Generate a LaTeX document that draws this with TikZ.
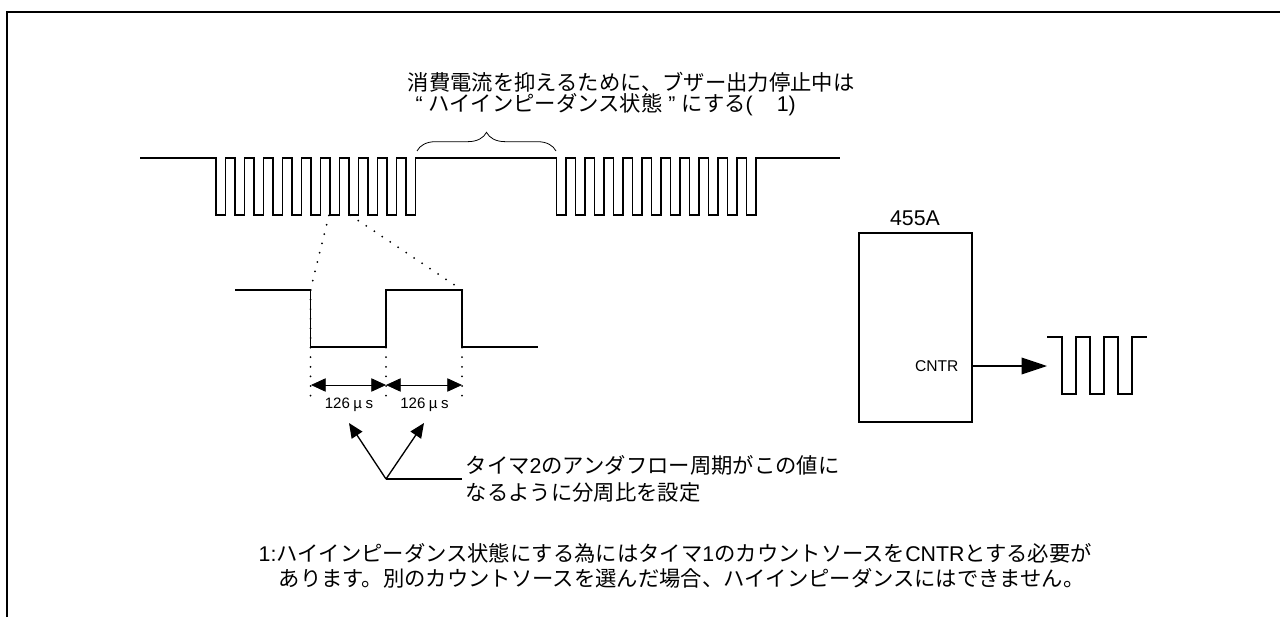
\documentclass[tikz,border=0pt]{standalone}
\usepackage{fontspec}
\usetikzlibrary{arrows.meta,decorations.pathreplacing}
\setmainfont{Liberation Sans}
\newfontfamily\jp{Noto Sans CJK JP}

\begin{document}
\begin{tikzpicture}
  [x=.75pt,y=-.75pt,line width=1pt,
   every node/.style={inner sep=0pt},
   jptext/.style={anchor=west,font=\fontsize{16}{18}\selectfont},
   smalltext/.style={font=\fontsize{11.3}{13}\selectfont},
   dots/.style={line width=1.5pt,line cap=round,dash pattern=on 0pt off 7.2pt},
   bigtip/.style={-{Triangle[length=11pt,width=9.5pt]}},
   dimtip/.style={{Triangle[length=11pt,width=10pt]}-{Triangle[length=11pt,width=10pt]}}]
  \useasboundingbox (0,0) rectangle (1280,617);
  % frame
  \draw[line width=1.5pt] (7,617) -- (7,12) -- (1280,12);
  % upper waveform
  \draw (140,158) foreach \k in {0,...,10} {-- (216+19*\k,158) -- ++(0,57) -- ++(9.5,0) -- ++(0,-57)}
    -- (415,158) foreach \k in {0,...,10} {-- (556.5+19*\k,158) -- ++(0,57) -- ++(9.5,0) -- ++(0,-57)}
    -- (840,158);
  \draw[line width=.6pt,decorate,decoration={brace,amplitude=14pt}] (417,151) -- (556,151);
  % lower waveform
  \coordinate (f1) at (310.5,290);
  \coordinate (r1) at (386,290);
  \coordinate (f2) at (462,290);
  \draw (235,290) -- (f1) -- (310.5,347) -- (386,347) -- (r1) -- (f2) -- (462,347) -- (538,347);
  \draw[dots] (f1) -- (329,215);
  \draw[dots] (f2) -- (350,215);
  \foreach \a in {f1,r1,f2}
    \draw[dots] (\a) -- ++(0,106);
  % interval arrows
  \node[smalltext] (t1) at (349,405) {126\hspace{2.6pt}\textmu\hspace{2.6pt}s};
  \node[smalltext] (t2) at (424.5,405) {126\hspace{2.6pt}\textmu\hspace{2.6pt}s};
  \coordinate (d1) at (311,385);
  \coordinate (d2) at (386,385);
  \coordinate (d3) at (462,385);
  \foreach \from/\to in {d1/d2,d2/d3}
    \draw[line width=.6pt,dimtip] (\from) -- (\to);
  % note
  \coordinate (apex) at (386,479);
  \coordinate (a1) at (349,423);
  \coordinate (a2) at (424,423);
  \node[jptext] (note2) at (465,465) {\jp タイマ{\rmfamily 2}のアンダフロー周期がこの値に};
  \node[jptext] (note3) at (465,492) {\jp なるように分周比を設定};
  \coordinate (lineend) at (462,479);
  \draw[bigtip] (apex) -- (a1);
  \draw[bigtip] (apex) -- (a2);
  \draw (apex) -- (lineend);
  % top text
  \node[jptext] (top1) at (407,82) {\jp 消費電流を抑えるために、ブザー出力停止中は};
  \node[jptext] (top2) at (415,105) {“ {\jp ハイインピーダンス状態} ” {\jp にする}(\hspace{18pt}1)};
  % bottom text
  \node[jptext] (foot1) at (258,553) {1:{\jp ハイインピーダンス状態にする為にはタイマ}1{\jp のカウントソースを}CNTR{\jp とする必要が}};
  \node[jptext] (foot2) at (278,578) {\jp あります。別のカウントソースを選んだ場合、ハイインピーダンスにはできません。};
  % chip
  \node[draw,minimum width=84.75pt,minimum height=141.75pt] (chip) at (915.5,327.5) {};
  \node[font=\fontsize{16}{18}\selectfont] (chipname) at (915,218) {455A};
  \node[font=\fontsize{11.7}{13}\selectfont,anchor=east] (cntr) at (959,366) {CNTR};
  \coordinate (out) at (1047,366);
  \draw[-{Triangle[length=19pt,width=12.5pt]}] (chip.east |- cntr) -- (out);
  \draw (1047,337) foreach \k in {0,1,2} {-- (1062+28*\k,337) -- ++(0,57) -- ++(14,0) -- ++(0,-57)} -- (1147,337);
\end{tikzpicture}
\end{document}
